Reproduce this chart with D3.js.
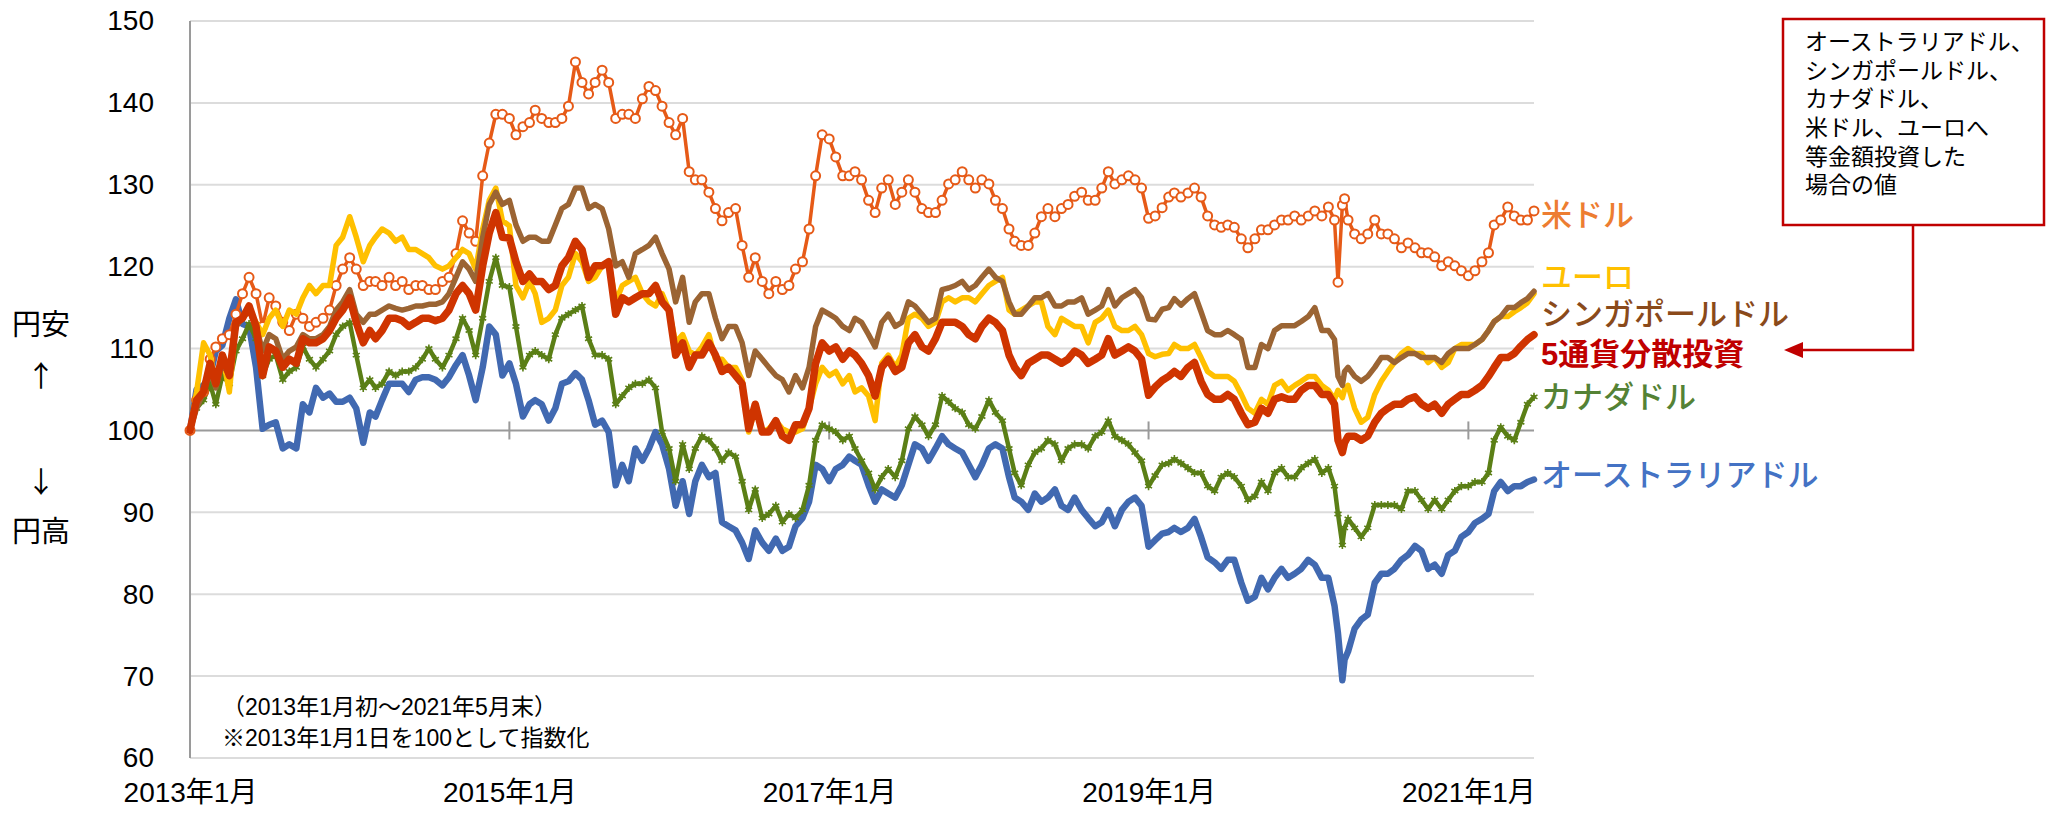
<!DOCTYPE html>
<html>
<head>
<meta charset="utf-8">
<script src="https://cdn.jsdelivr.net/npm/d3@7"></script>
<style>
  body { margin: 0; background: #fff; }
  text { font-family: "Liberation Sans", "Noto Sans CJK JP", sans-serif; }
</style>
</head>
<body>
<div class="chart"></div>
<script>
// semi-monthly dates, 2013-01 .. 2021-05 (extra points around March 2020)
var dates = [
  '2013-01-01','2013-01-16','2013-02-01','2013-02-16','2013-03-01','2013-03-16','2013-04-01','2013-04-16','2013-05-01','2013-05-16','2013-06-01','2013-06-16',
  '2013-07-01','2013-07-16','2013-08-01','2013-08-16','2013-09-01','2013-09-16','2013-10-01','2013-10-16','2013-11-01','2013-11-16','2013-12-01','2013-12-16',
  '2014-01-01','2014-01-16','2014-02-01','2014-02-16','2014-03-01','2014-03-16','2014-04-01','2014-04-16','2014-05-01','2014-05-16','2014-06-01','2014-06-16',
  '2014-07-01','2014-07-16','2014-08-01','2014-08-16','2014-09-01','2014-09-16','2014-10-01','2014-10-16','2014-11-01','2014-11-16','2014-12-01','2014-12-16',
  '2015-01-01','2015-01-16','2015-02-01','2015-02-16','2015-03-01','2015-03-16','2015-04-01','2015-04-16','2015-05-01','2015-05-16','2015-06-01','2015-06-16',
  '2015-07-01','2015-07-16','2015-08-01','2015-08-16','2015-09-01','2015-09-16','2015-10-01','2015-10-16','2015-11-01','2015-11-16','2015-12-01','2015-12-16',
  '2016-01-01','2016-01-16','2016-02-01','2016-02-16','2016-03-01','2016-03-16','2016-04-01','2016-04-16','2016-05-01','2016-05-16','2016-06-01','2016-06-16',
  '2016-07-01','2016-07-16','2016-08-01','2016-08-16','2016-09-01','2016-09-16','2016-10-01','2016-10-16','2016-11-01','2016-11-16','2016-12-01','2016-12-16',
  '2017-01-01','2017-01-16','2017-02-01','2017-02-16','2017-03-01','2017-03-16','2017-04-01','2017-04-16','2017-05-01','2017-05-16','2017-06-01','2017-06-16',
  '2017-07-01','2017-07-16','2017-08-01','2017-08-16','2017-09-01','2017-09-16','2017-10-01','2017-10-16','2017-11-01','2017-11-16','2017-12-01','2017-12-16',
  '2018-01-01','2018-01-16','2018-02-01','2018-02-16','2018-03-01','2018-03-16','2018-04-01','2018-04-16','2018-05-01','2018-05-16','2018-06-01','2018-06-16',
  '2018-07-01','2018-07-16','2018-08-01','2018-08-16','2018-09-01','2018-09-16','2018-10-01','2018-10-16','2018-11-01','2018-11-16','2018-12-01','2018-12-16',
  '2019-01-01','2019-01-16','2019-02-01','2019-02-16','2019-03-01','2019-03-16','2019-04-01','2019-04-16','2019-05-01','2019-05-16','2019-06-01','2019-06-16',
  '2019-07-01','2019-07-16','2019-08-01','2019-08-16','2019-09-01','2019-09-16','2019-10-01','2019-10-16','2019-11-01','2019-11-16','2019-12-01','2019-12-16',
  '2020-01-01','2020-01-16','2020-02-01','2020-02-16','2020-03-01','2020-03-09','2020-03-19','2020-03-24','2020-04-01','2020-04-16','2020-05-01','2020-05-16','2020-06-01','2020-06-16',
  '2020-07-01','2020-07-16','2020-08-01','2020-08-16','2020-09-01','2020-09-16','2020-10-01','2020-10-16','2020-11-01','2020-11-16','2020-12-01','2020-12-16',
  '2021-01-01','2021-01-16','2021-02-01','2021-02-16','2021-03-01','2021-03-16','2021-04-01','2021-04-16','2021-05-01','2021-05-16','2021-05-31'
];

var usd = [
  100,103.7,104.7,108.7,110.2,111.2,111.7,114.2,116.7,118.7,116.7,112.7,116.2,115.2,113.2,112.2,114.2,113.7,112.7,113.2,113.7,114.7,117.7,119.7,
  121.1,119.7,117.7,118.2,118.2,117.7,118.7,117.7,118.2,117.2,117.7,117.7,117.2,117.2,118.2,118.7,121.6,125.6,124.1,123.1,131.1,135.1,138.6,138.6,
  138.1,136.1,137.1,137.6,139.1,138.1,137.6,137.6,138.1,139.6,145,142.5,141.1,142.5,144,142.5,138.1,138.6,138.6,138.1,140.5,142,141.5,139.6,
  137.6,136.1,138.1,131.6,130.6,130.6,129.1,127.1,125.6,126.6,127.1,122.6,118.7,121.1,118.2,116.7,118.2,117.2,117.7,119.7,120.6,124.6,131.1,136.1,
  135.6,133.4,131.1,131.1,131.6,130.6,128.1,126.6,129.6,130.6,127.6,129.1,130.6,129.1,127.1,126.6,126.6,128.1,130.1,130.6,131.6,130.6,129.6,130.6,
  130.1,128.1,127.1,124.6,123.1,122.6,122.6,124.1,126.1,127.1,126.1,127.1,127.6,128.6,129.1,128.1,128.1,129.6,131.6,130.1,130.6,131.1,130.6,129.6,
  125.9,126.2,127.2,128.5,129,128.5,129,129.6,128.5,126.2,125.1,124.8,125.1,124.8,123.4,122.3,123.4,124.5,124.5,125.1,125.7,125.7,126.2,125.7,
  126.2,126.8,126.2,127.3,125.7,118.1,127.5,128.3,125.7,124,123.4,124,125.7,124,124,123.4,122.3,122.9,122.3,121.7,121.7,121.2,120.1,120.6,120.1,119.5,
  118.9,119.5,120.6,121.7,125.1,125.7,127.3,126.2,125.7,125.7,126.8
];

var eur = [
  100,104.7,110.7,109.2,105.7,109.2,104.7,113.2,113.7,114.7,113.2,111.7,113.7,114.7,112.7,114.7,114.2,116.2,117.7,116.7,117.7,117.7,122.6,123.6,
  126.1,123.6,120.6,122.6,123.6,124.6,124.1,123.1,123.6,122.1,122.1,121.6,121.1,120.1,119.7,120.1,121.1,122.1,121.6,119.7,124.6,128.1,129.6,125.6,
  125,117.7,116.2,118.2,116.7,113.2,113.7,114.7,117.7,118.7,121.6,120.6,118.2,118.7,120.1,120.6,115.7,117.7,118.2,118.7,116.7,115.7,115.2,116.7,
  114.7,110.7,111.7,109.7,109.2,110.2,111.7,108.7,108.7,107.7,107.7,106.2,99.8,102.7,99.8,100.2,101.2,100.2,99.8,99.8,100.2,102.7,105.7,107.7,
  106.7,107.2,105.7,106.7,104.7,105.2,104.2,101.2,108.2,109.2,107.7,109.2,113.7,114.2,113.7,112.7,113.2,115.7,116.2,115.7,116.2,116.2,115.7,116.7,
  117.7,118.2,118.7,114.7,114.2,114.7,115.2,115.7,115.7,112.7,111.7,113.7,113.2,112.7,112.7,110.7,113.2,113.7,114.7,112.7,112.2,112.2,112.7,111.7,
  109.4,109,109.3,109.4,110.5,110,110,110.5,108.9,107.2,106.6,106.6,106.6,106,104.4,102.7,102.1,103.8,103.2,105.5,106,104.9,105.5,106,
  106.6,106.6,105.5,104.9,103.8,104.9,104,105,105.5,102.7,101,101.6,104.4,106,107.2,108.3,109.4,110,109.4,109.4,108.3,108.9,107.7,108.3,110,110.5,
  110.5,110.5,111.1,112.2,113.3,113.9,113.9,114.5,115,115.6,116.7
];

var sgd = [
  100,102.7,104.7,107.2,105.2,108.2,106.7,112.7,113.7,114.7,112.7,109.7,111.7,111.2,108.7,109.7,110.2,111.7,111.2,111.2,111.7,112.7,114.7,115.7,
  117.2,114.2,113.2,114.2,114.2,114.7,115.2,114.9,114.7,114.9,115.2,115.2,115.4,115.4,115.7,116.7,118.7,120.6,119.7,118.2,123.6,127.6,129.1,127.6,
  128.1,125.1,123.1,123.6,123.6,123.1,123.1,125.1,127.1,127.6,129.6,129.6,127.1,127.6,127.1,124.6,120.1,120.6,118.7,121.6,122.1,122.6,123.6,121.6,
  119.7,115.7,118.7,113.2,115.7,116.7,116.7,113.7,111.2,112.7,112.7,110.7,106.7,109.7,108.7,107.7,106.7,106.2,104.7,106.7,105.2,107.7,112.7,114.7,
  114.2,113.7,112.7,112.2,113.7,113.2,111.7,110.2,113.2,114.2,112.7,113.2,115.7,115.2,114.2,113.2,113.7,117.2,117.4,117.7,118.2,117.2,117.7,118.7,
  119.7,118.7,118.2,115.7,114.2,114.2,115.2,116.2,116.2,116.7,115.2,115.2,115.7,115.7,116.2,114.2,114.7,115.2,117.2,115.2,116.2,116.7,117.2,116.2,
  113.6,113.5,114.8,115,116.1,115.3,116.1,116.7,114.5,112.2,111.7,111.7,112.2,111.7,111.1,107.7,107.7,110.5,110,112.2,112.8,112.8,112.8,113.3,
  113.9,115,112.2,112.2,111.1,106.6,105.5,107.2,107.7,106.6,106,106.6,107.7,108.9,108.9,108.3,108.9,109.4,109.4,108.9,108.9,108.9,108.3,109.4,110,110,
  110,110.5,111.1,112.2,113.3,113.9,115,115,115.6,116.1,117
];

var basket = [
  100,103.7,104.7,108.2,105.7,109.2,106.7,113.2,113.7,115.2,112.7,106.7,110.2,109.7,107.7,108.7,108.2,111.2,110.7,110.7,111.2,112.2,113.7,114.7,
  116.2,113.2,110.7,112.2,111.2,112.2,113.7,113.7,113.4,112.7,113.2,113.7,113.7,113.4,113.7,114.7,116.7,117.7,116.7,114.7,120.1,124.1,126.6,123.6,
  123.5,120.6,118.2,119.1,118.2,118.2,117.2,117.7,120.1,121.1,123.1,122.1,118.7,120.1,120.1,120.6,114.2,116.2,115.7,116.2,116.7,116.7,117.7,115.7,
  114.7,109.2,110.7,107.7,109.2,109.2,110.7,109.2,107.2,107.7,106.7,105.7,100.2,103.2,99.8,99.8,101.2,99.3,98.8,100.7,100.7,102.7,108.2,110.7,
  109.7,110.2,108.7,109.7,109.2,108.2,106.7,104.2,107.7,108.7,107.2,107.7,110.7,111.7,110.2,109.7,111.2,113.2,113.2,113.2,112.7,111.7,111.2,112.7,
  113.7,113.2,112.2,109.2,107.7,106.7,108.2,108.7,109.2,109.2,108.7,108.2,108.7,109.7,109.2,108.2,108.7,109.2,111.2,109.2,109.7,110.2,109.7,108.7,
  104.3,105.3,106.1,106.6,107.2,106.6,107.7,108.3,106,104.4,103.8,103.8,104.4,103.8,102.1,100.7,101,102.7,102.1,103.8,104.1,103.8,103.8,104.9,
  105.5,105.5,104.4,104.4,103.2,98.8,97.3,98.5,99.3,99.3,98.8,99.3,101,102.1,102.7,103.2,103.2,103.8,104.1,103.2,102.7,103.2,102.1,103.2,103.8,104.4,
  104.4,104.9,105.5,106.6,107.7,108.9,108.9,109.4,110.3,111.1,111.7
];

var cad = [
  100,102.7,103.7,105.7,103.2,106.7,105.7,109.7,111.2,113,111.2,106.7,108.7,109.2,106.2,107.2,107.7,110.2,108.7,107.7,108.7,109.7,111.7,112.7,
  113.2,109.2,105.2,106.2,105.2,105.7,107.2,106.7,107.2,107.2,107.7,108.7,110,108.7,107.7,109.2,111.2,113.7,112.2,109.2,113.7,118.2,121.1,117.7,
  117.5,112.7,107.7,109.2,109.7,109.2,108.7,111.7,113.7,114.2,114.7,115.2,111.2,109.2,109.2,108.7,103.2,104.2,105.2,105.7,105.7,106.2,105.2,99.8,
  97.8,93.8,98.3,95.3,97.8,99.3,98.8,97.8,96.3,97.3,96.8,93.8,90.3,92.8,89.3,89.8,90.8,88.8,89.8,89.3,90.3,93.3,98.8,100.7,
  100.2,99.8,98.8,99.3,97.8,96.3,94.8,92.8,94.3,95.3,94.3,96.3,100.2,101.7,100.7,99.3,100.7,104.2,103.5,102.7,102.2,100.7,100.2,101.7,
  103.7,102.2,101.2,97.8,94.8,93.3,95.8,97.3,97.8,98.8,98.3,96.3,97.8,98.3,98.3,97.8,99.3,99.8,101.2,99.3,98.8,98.3,97.3,96.3,
  93.2,94.5,95.8,96,96.5,96,95.4,94.8,94.8,93.2,92.6,94.3,94.8,94.3,93.2,91.5,92,93.7,92.6,94.8,95.4,94.3,94.3,95.4,
  96,96.5,94.8,95.4,93.2,89.8,86,88.1,89.2,88.1,87,88.1,90.9,90.9,90.9,90.9,90.4,92.6,92.6,91.5,90.4,91.5,90.4,91.5,92.6,93.2,
  93.2,93.7,93.7,94.8,98.8,100.4,99.3,98.8,101,103.2,104.1
];

var aud = [
  100,105,105.5,106.7,109.7,110.4,113.7,116,113,112.7,107.7,100.2,100.7,101,97.8,98.3,97.8,103.2,102.2,105.2,104,104.5,103.5,103.5,
  104,102.7,98.5,102.2,101.7,103.7,105.7,105.7,105.7,104.7,106.2,106.5,106.5,106.2,105.5,106.5,108,109.2,106.7,103.7,107.7,112.7,111.7,106.7,
  108.2,105.7,101.7,103.2,103.7,103.2,101.2,102.7,105.7,106,107,106.2,103.7,100.7,101.2,99.8,93.3,95.8,93.8,97.8,96.3,97.8,99.8,98.3,
  95.3,90.8,93.8,89.8,93.8,95.8,94.3,94.8,88.8,88.3,87.8,86.3,84.3,87.8,86.3,85.3,86.8,85.3,85.8,88.3,89.3,91.3,95.8,95.3,
  93.8,95.3,95.8,96.8,96.3,95.8,93.3,91.3,92.8,92.3,91.8,93.3,95.8,98.3,97.8,96.3,97.8,99.3,98.3,97.8,97.3,95.8,94.3,95.8,
  97.8,98.3,97.8,94.3,91.8,91.3,90.3,92.3,91.3,91.8,92.8,90.8,90.3,91.8,90.3,89.3,88.3,88.8,90.3,88.3,90.3,91.3,91.8,90.8,
  85.8,86.6,87.4,87.6,88.1,87.6,88.1,89.2,87,84.5,83.9,83.1,84.2,84.2,81.4,79.2,79.7,82,80.6,82,83.1,82,82.5,83.1,
  84.2,83.6,82,82,78.6,75.2,69.5,72,73,75.8,76.9,77.5,81.4,82.5,82.5,83.1,84.2,84.8,85.9,85.3,83.1,83.6,82.5,84.8,85.3,87,
  87.6,88.7,89.2,89.8,92.6,93.7,92.6,93.2,93.2,93.7,94
];

var yTicks = [60, 70, 80, 90, 100, 110, 120, 130, 140, 150];
var xTicks = ['2013-01-01', '2015-01-01', '2017-01-01', '2019-01-01', '2021-01-01'];
var labels = ['米ドル', 'ユーロ', 'シンガポールドル', '5通貨分散投資', 'カナダドル', 'オーストラリアドル'];
var labelAt = [126.3, 118.8, 114.2, 109.4, 104.1, 94.6];
var noteLines = ['（2013年1月初～2021年5月末）', '※2013年1月1日を100として指数化'];
var boxLines = ['オーストラリアドル、', 'シンガポールドル、', 'カナダドル、', '米ドル、ユーロへ', '等金額投資した', '場合の値'];

var width = 2046;
var height = 816;
var parseDate = d3.timeParse('%Y-%m-%d');
var days = dates.map(parseDate);

var svg = d3.select('.chart')
    .append('svg')
    .attr('width', width)
    .attr('height', height)
    .style('display', 'block');

var xScale = d3.scaleTime()
    .domain([parseDate('2013-01-01'), parseDate('2021-05-31')])
    .range([190, 1534]);

var yScale = d3.scaleLinear()
    .domain([60, 150])
    .range([758, 21]);

// gridlines
svg.append('g')
    .selectAll('line')
    .data(yTicks.filter(d => d !== 100))
    .enter()
    .append('line')
    .attr('x1', xScale.range()[0])
    .attr('x2', xScale.range()[1])
    .attr('y1', d => yScale(d))
    .attr('y2', d => yScale(d))
    .style('stroke', '#dcdcdc')
    .style('stroke-width', 2);

// y axis labels
var yAxis = svg.append('g')
    .attr('transform', 'translate(190, 0)')
    .call(d3.axisLeft(yScale).tickValues(yTicks).tickSize(0).tickPadding(36));
yAxis.select('.domain').remove();
yAxis.selectAll('text')
    .style('font-size', '28px')
    .style('fill', '#000');

// x axis labels
var xAxis = svg.append('g')
    .attr('transform', 'translate(0, 758)')
    .call(d3.axisBottom(xScale)
        .tickValues(xTicks.map(parseDate))
        .tickFormat(d3.timeFormat('%Y年%-m月'))
        .tickSize(0)
        .tickPadding(24));
xAxis.select('.domain').remove();
xAxis.selectAll('text')
    .style('font-size', '28px')
    .style('fill', '#000');

// axis at 100 with crossing ticks
svg.append('line')
    .attr('x1', xScale.range()[0])
    .attr('x2', xScale.range()[1])
    .attr('y1', yScale(100))
    .attr('y2', yScale(100))
    .style('stroke', '#9a9a9a')
    .style('stroke-width', 2);

svg.append('g')
    .selectAll('line')
    .data(xTicks.slice(1).map(parseDate))
    .enter()
    .append('line')
    .attr('x1', d => xScale(d))
    .attr('x2', d => xScale(d))
    .attr('y1', yScale(100) - 9)
    .attr('y2', yScale(100) + 9)
    .style('stroke', '#9a9a9a')
    .style('stroke-width', 2);

svg.append('line')
    .attr('x1', 190)
    .attr('x2', 190)
    .attr('y1', yScale(150))
    .attr('y2', yScale(60))
    .style('stroke', '#9a9a9a')
    .style('stroke-width', 2);

var line = d3.line()
    .x((d, i) => xScale(days[i]))
    .y(d => yScale(d));

function drawSeries(values, color, w) {
    return svg.append('path')
        .attr('d', line(values))
        .style('fill', 'none')
        .style('stroke', color)
        .style('stroke-width', w)
        .style('stroke-linejoin', 'round')
        .style('stroke-linecap', 'round');
}

drawSeries(aud, '#4169b1', 6.5);

drawSeries(cad, '#5b7f16', 4.5);
svg.append('g')
    .selectAll('path')
    .data(cad)
    .enter()
    .append('path')
    .attr('d', d3.symbol().type(d3.symbolAsterisk || d3.symbolX).size(45))
    .attr('transform', (d, i) => `translate(${xScale(days[i])}, ${yScale(d)})`)
    .style('fill', 'none')
    .style('stroke', '#5b7f16')
    .style('stroke-width', 1.6);

drawSeries(usd, '#e65a17', 3.5);
svg.append('g')
    .selectAll('circle')
    .data(usd)
    .enter()
    .append('circle')
    .attr('cx', (d, i) => xScale(days[i]))
    .attr('cy', d => yScale(d))
    .attr('r', 4.5)
    .style('fill', '#fff')
    .style('stroke', '#e65a17')
    .style('stroke-width', 2);

drawSeries(eur, '#ffc000', 5.5);
drawSeries(sgd, '#9b6433', 5.5);
drawSeries(basket, '#cf3400', 7.5);

// series labels
var labelColors = ['#ed7d31', '#ffc000', '#8a4a1a', '#c00000', '#548235', '#4472c4'];
svg.append('g')
    .selectAll('text')
    .data(labels)
    .enter()
    .append('text')
    .attr('x', 1541)
    .attr('y', (d, i) => yScale(labelAt[i]))
    .attr('dy', '0.36em')
    .style('font-size', '31px')
    .style('font-weight', (d, i) => i === 3 ? 'bold' : 500)
    .style('fill', (d, i) => labelColors[i])
    .text(d => d);

// notes
svg.append('g')
    .selectAll('text')
    .data(noteLines)
    .enter()
    .append('text')
    .attr('x', 222)
    .attr('y', (d, i) => 707 + i * 31)
    .attr('dy', '0.36em')
    .style('font-size', '23px')
    .text(d => d);

// y label
var sideText = ['円安', '↑', '↓', '円高'];
var sideY = [325, 377, 483, 532];
svg.append('g')
    .selectAll('text')
    .data(sideText)
    .enter()
    .append('text')
    .attr('x', 41)
    .attr('y', (d, i) => sideY[i])
    .attr('dy', '0.36em')
    .attr('text-anchor', 'middle')
    .style('font-family', '"Noto Sans CJK JP", sans-serif')
    .style('font-size', '29px')
    .text(d => d);

// annotation box + arrow
var box = svg.append('g');
box.append('rect')
    .attr('x', 1783)
    .attr('y', 19)
    .attr('width', 261)
    .attr('height', 206)
    .style('fill', '#fff')
    .style('stroke', '#c00000')
    .style('stroke-width', 2.5);

box.selectAll('text')
    .data(boxLines)
    .enter()
    .append('text')
    .attr('x', 1805)
    .attr('y', (d, i) => 42 + i * 28.6)
    .attr('dy', '0.36em')
    .style('font-size', '23px')
    .text(d => d);

box.append('path')
    .attr('d', 'M1913,225V350H1800')
    .style('fill', 'none')
    .style('stroke', '#c00000')
    .style('stroke-width', 2.5);

box.append('path')
    .attr('d', 'M1784,350L1803,342L1803,358Z')
    .style('fill', '#c00000');
</script>
</body>
</html>
